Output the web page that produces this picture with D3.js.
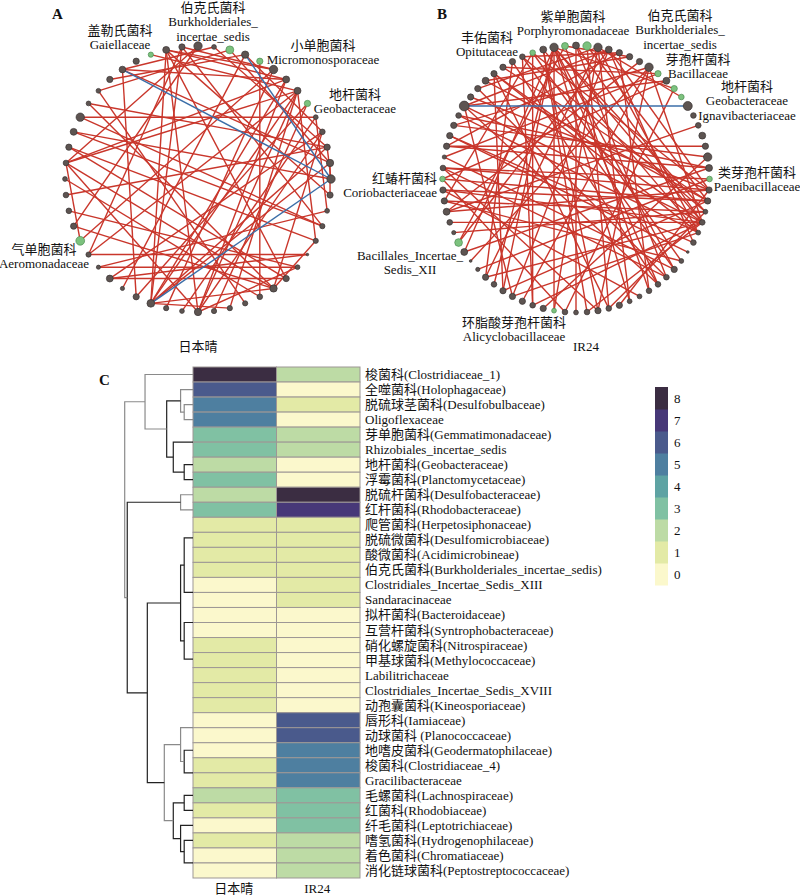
<!DOCTYPE html>
<html>
<head>
<meta charset="utf-8">
<script src="https://cdn.jsdelivr.net/npm/d3@7/dist/d3.min.js"></script>
<style>
  body { margin: 0; background: #fff; }
  text { font-family: "Liberation Serif", "Noto Sans CJK SC", serif; fill: #111; }
</style>
</head>
<body>
<div id="chart"></div>
<script>
// ---------- panel C: heatmap data ----------
const families = [
  "梭菌科(Clostridiaceae_1)", "全噬菌科(Holophagaceae)", "脱硫球茎菌科(Desulfobulbaceae)", "Oligoflexaceae",
  "芽单胞菌科(Gemmatimonadaceae)", "Rhizobiales_incertae_sedis", "地杆菌科(Geobacteraceae)", "浮霉菌科(Planctomycetaceae)",
  "脱硫杆菌科(Desulfobacteraceae)", "红杆菌科(Rhodobacteraceae)", "爬管菌科(Herpetosiphonaceae)", "脱硫微菌科(Desulfomicrobiaceae)",
  "酸微菌科(Acidimicrobineae)", "伯克氏菌科(Burkholderiales_incertae_sedis)", "Clostridiales_Incertae_Sedis_XIII", "Sandaracinaceae",
  "拟杆菌科(Bacteroidaceae)", "互营杆菌科(Syntrophobacteraceae)", "硝化螺旋菌科(Nitrospiraceae)", "甲基球菌科(Methylococcaceae)",
  "Labilitrichaceae", "Clostridiales_Incertae_Sedis_XVIII", "动孢囊菌科(Kineosporiaceae)", "唇形科(Iamiaceae)",
  "动球菌科 (Planococcaceae)", "地嗜皮菌科(Geodermatophilaceae)", "梭菌科(Clostridiaceae_4)", "Gracilibacteraceae",
  "毛螺菌科(Lachnospiraceae)", "红菌科(Rhodobiaceae)", "纤毛菌科(Leptotrichiaceae)", "嗜氢菌科(Hydrogenophilaceae)",
  "着色菌科(Chromatiaceae)", "消化链球菌科(Peptostreptococcaceae)"
];
const samples = ["日本晴", "IR24"];
const nipponbare = [8,6,5,5,3,3,2,3,2,3,1,1,1,1,0,0,0,0,1,1,1,1,1,0,0,0,1,1,2,1,0,1,0,0];
const ir24       = [2,0,1,0,2,2,0,0,8,7,1,1,1,1,1,1,0,0,0,0,0,0,0,6,6,5,5,5,3,3,3,2,2,2];
const legendTicks = [0,1,2,3,4,5,6,7,8];

// row dendrogram: [height, left, right], leaves are row indices
const dendrogram = [7.76,
  [5.45, 0, [2.99, [1.41, 1, [1, 2, 3]], [2.24, [0, 4, 5], [1, 6, 7]]]],
  [7.47, [1.41, 8, 9],
    [5.19,
      [1.41, [1, [0, 10, [0, 11, [0, 12, 13]]], [0, 14, 15]],
             [1, [0, 16, 17], [0, 18, [0, 19, [0, 20, [0, 21, 22]]]]]],
      [3.26, [1.41, [0, 23, 24], [1, 25, [0, 26, 27]]],
             [2.24, [1, 28, 29], [1.41, 30, [1, 31, [0, 32, 33]]]]]]]];

// ---------- panels A / B: co-occurrence networks ----------
// node weights, clockwise from the top of each circle
const nodeWeightA = [4,2.3,3.8,3.5,3,4,3.3,3.3,3,2.3,2.7,3,3.5,4,3,2.3,2.5,2.5,1.2,2.3,3,3.5,2.7,2.5,2.5,2.5,
  3.5,2.3,2.5,3.7,3,2,3.3,2,2.5,4.2,3,2.7,2.7,2.3,2.7,3,3.3,4,2.3,2.3,3,3.2,3,2.5,3.3,3];
const greenA = [2, 4, 8, 35, 49];
const edgesA = [
  [43,9],[50,29],[50,26],[50,20],[50,14],[50,5],[51,29],[51,16],[51,34],[0,40],[0,36],
  [1,47],[2,45],[47,6],[47,30],[47,12],[46,3],[44,11],[43,16],[42,13],[41,17],
  [40,7],[40,6],[40,26],[40,21],[39,22],[38,11],[35,5],[35,40],[34,7],
  [34,18],[33,19],[33,15],[32,20],[32,10],[31,3],[30,8],[29,7],[29,6],[29,12],[29,11],[29,21],[29,24],
  [28,5],[27,9],[26,7],[26,6],[26,10],[26,19],[25,8],[24,7],[23,45],[22,4],
  [21,44],[21,36],[21,10],[21,17],[20,41],[19,37],[18,32],[17,7],[16,42],[15,9],
  [14,12],[13,11],[12,2],[11,1],[10,3],[7,49],[6,50],[5,51]
];
const negEdgesA = [[47,13],[3,13],[29,13]];
const labelsA = [
  { node: 49, lines: ["盖勒氏菌科", "Gaiellaceae"] },
  { node: 2, lines: ["伯克氏菌科", "Burkholderiales_", "incertae_sedis"] },
  { node: 4, lines: ["小单胞菌科", "Micromonosporaceae"] },
  { node: 8, lines: ["地杆菌科", "Geobacteraceae"] },
  { node: 35, lines: ["气单胞菌科", "Aeromonadaceae"] }
];

const nodeWeightB = [3.3,4,4,3.3,3,3,3,4,3,3.3,3,2.7,4.3,2.7,2.7,3.3,3,4,3.3,2.7,3,3,2.3,2.7,2.3,2.7,1.3,2.3,
  3,2.7,2.7,2.7,2.3,2.3,3,2.7,3,2.7,2.3,2.7,2.3,3,2.7,3,3,3,2.7,3,2,1.3,3.3,3.7,2,2.7,3.3,3,3,2.7,2.7,2,3,3,3,
  2.7,4.7,3,3,3.3,3,3,3,2.7,2.7,3.3,4,3.3];
const greenB = [1, 8, 10, 11, 19, 40, 51, 57, 72, 75];
const edgesB = [
  [53,23],[56,21],[55,22],[58,20],[60,18],[62,17],
  [74,23],[74,28],[74,33],[74,45],[74,50],[74,40],[74,30],
  [73,24],[73,36],[72,27],[72,55],[71,22],[71,42],[70,30],[70,47],
  [69,8],[69,21],[68,23],[68,35],[67,5],[66,2],[66,29],[65,20],
  [64,23],[64,30],[64,44],[64,3],[63,24],[62,7],[61,26],[60,4],[59,28],
  [58,36],[57,21],[57,9],[56,23],[56,32],[54,20],[54,6],[52,22],[51,75],[51,3],[50,18],
  [49,7],[48,19],[47,23],[47,2],[46,74],[45,21],[45,68],[44,3],[44,24],
  [43,7],[42,23],[42,72],[41,17],[40,2],[39,10],[39,57],
  [38,0],[37,23],[37,73],[36,7],[35,22],[35,1],[34,20],
  [33,2],[31,4],[31,75],[29,58],[29,0],[28,71],
  [27,55],[25,61],[25,3],[24,68],[24,2],[23,7],[23,0],[22,74],
  [21,1],[21,67],[20,72],[20,3],[19,58],[18,63],[16,60],[14,54],
  [11,2],[10,74],[9,64],[8,59],[5,75],[4,71]
];
const negEdgesB = [[64,12]];
const labelsB = [
  { node: 72, lines: ["丰佑菌科", "Opitutaceae"] },
  { node: 1, lines: ["紫单胞菌科", "Porphyromonadaceae"] },
  { node: 8, lines: ["伯克氏菌科", "Burkholderiales_", "incertae_sedis"] },
  { node: 10, lines: ["芽孢杆菌科", "Bacillaceae"] },
  { node: 11, lines: ["地杆菌科", "Geobacteraceae", "Ignavibacteriaceae"] },
  { node: 19, lines: ["类芽孢杆菌科", "Paenibacillaceae"] },
  { node: 57, lines: ["红蝽杆菌科", "Coriobacteriaceae"] },
  { node: 51, lines: ["Bacillales_Incertae_", "Sedis_XII"] },
  { node: 40, lines: ["环脂酸芽孢杆菌科", "Alicyclobacillaceae"] }
];

// ---------- drawing ----------
const width = 800, height = 896;
const svg = d3.select("#chart").append("svg")
  .attr("width", width).attr("height", height);

const red = "#c9362b", blue = "#3b6ea8";
const greyFill = "#5d5451", greenFill = "#7cc27e";
const radius = d3.scaleLinear().domain([0, 4.7]).range([0, 4.9]);

function drawNetwork(opt) {
  const g = svg.append("g");
  const n = opt.weights.length;
  const angle = d3.scaleLinear().domain([0, n]).range([0, 2 * Math.PI]);
  const pos = d3.range(n).map(i => [
    opt.cx + opt.r * Math.sin(angle(i)),
    opt.cy - opt.r * Math.cos(angle(i))
  ]);

  g.selectAll("line.pos").data(opt.edges).enter().append("line")
    .attr("class", "pos")
    .attr("x1", d => pos[d[0]][0]).attr("y1", d => pos[d[0]][1])
    .attr("x2", d => pos[d[1]][0]).attr("y2", d => pos[d[1]][1])
    .attr("stroke", red).attr("stroke-width", 1.4);

  g.selectAll("line.neg").data(opt.negEdges).enter().append("line")
    .attr("class", "neg")
    .attr("x1", d => pos[d[0]][0]).attr("y1", d => pos[d[0]][1])
    .attr("x2", d => pos[d[1]][0]).attr("y2", d => pos[d[1]][1])
    .attr("stroke", blue).attr("stroke-width", 1.4);

  g.selectAll("circle").data(opt.weights).enter().append("circle")
    .attr("cx", (d, i) => pos[i][0]).attr("cy", (d, i) => pos[i][1])
    .attr("r", d => radius(d))
    .attr("fill", (d, i) => opt.green.includes(i) ? greenFill : greyFill)
    .attr("stroke", (d, i) => opt.green.includes(i) ? "#4d8c52" : "#3a3333")
    .attr("stroke-width", 0.7);

  opt.labels.forEach((lab, k) => {
    const p = opt.labelPos[k];
    const t = g.append("text").attr("font-size", 13).attr("text-anchor", p[2] || "middle");
    lab.lines.forEach((s, j) => {
      t.append("tspan").attr("x", p[0]).attr("y", p[1] + j * 14.3).text(s);
    });
  });

  g.append("text").attr("x", opt.titleX).attr("y", 351).attr("font-size", 13)
    .attr("text-anchor", "middle").text(opt.title);
  g.append("text").attr("x", opt.letter[0]).attr("y", opt.letter[1])
    .attr("font-size", 15).attr("font-weight", "bold").text(opt.letterText);
}

drawNetwork({
  cx: 198, cy: 179, r: 133, weights: nodeWeightA, green: greenA,
  edges: edgesA, negEdges: negEdgesA, labels: labelsA,
  labelPos: [[120, 35], [213, 12], [323, 50], [355, 99], [44, 254]],
  title: "日本晴", titleX: 198, letter: [52, 19], letterText: "A"
});

drawNetwork({
  cx: 576, cy: 179, r: 133.5, weights: nodeWeightB, green: greenB,
  edges: edgesB, negEdges: negEdgesB, labels: labelsB,
  labelPos: [[487, 42], [573, 21], [680, 20], [698, 64], [747, 91], [757, 177],
             [437, 183, "end"], [410, 260], [514, 327]],
  title: "IR24", titleX: 586, letter: [437, 19], letterText: "B"
});

// ---------- panel C ----------
const colors = ["#fbf8cc", "#e3eaa6", "#bddba5", "#80c1a3", "#5ea3a3", "#4e7fa0", "#4a5a8c", "#473878", "#3b2d42"];
const colorOf = d3.scaleOrdinal().domain(legendTicks).range(colors);

const hx = d3.scaleBand().domain(samples).range([193, 360]);
const hy = d3.scaleBand().domain(families).range([367, 878]);
const gc = svg.append("g");

const cells = [];
families.forEach((f, i) => {
  cells.push({ fam: f, s: samples[0], v: nipponbare[i] });
  cells.push({ fam: f, s: samples[1], v: ir24[i] });
});

gc.selectAll("rect.cell").data(cells).enter().append("rect")
  .attr("class", "cell")
  .attr("x", d => hx(d.s)).attr("y", d => hy(d.fam))
  .attr("width", hx.bandwidth()).attr("height", hy.bandwidth())
  .attr("fill", d => colorOf(d.v))
  .attr("stroke", "#9d9795").attr("stroke-width", 1);

gc.selectAll("text.row").data(families).enter().append("text")
  .attr("class", "row")
  .attr("x", 365).attr("y", d => hy(d) + hy.bandwidth() / 2 + 4.5)
  .attr("font-size", 13).text(d => d);

gc.selectAll("text.col").data(samples).enter().append("text")
  .attr("class", "col")
  .attr("x", d => hx(d) + hx.bandwidth() / 2 - 1).attr("y", 893)
  .attr("text-anchor", "middle").attr("font-size", 13).text(d => d);

gc.append("text").attr("x", 99).attr("y", 385).attr("font-size", 15)
  .attr("font-weight", "bold").text("C");

// dendrogram
const hh = d3.scaleLinear().domain([0, 7.76]).range([193, 124.7]);
const greyLinks = new Set(["0-33", "0-7", "1-3", "2-3", "8-9", "23-33", "23-27"]);
function drawTree(node) {
  if (typeof node === "number") {
    return { x: hh(0), y: hy(families[node]) + hy.bandwidth() / 2, lo: node, hi: node };
  }
  const a = drawTree(node[1]);
  const b = drawTree(node[2]);
  const x = hh(node[0]);
  const lo = a.lo, hi = b.hi;
  if (node[0] > 0) {
    gc.append("path")
      .attr("d", `M${a.x},${a.y}H${x}V${b.y}H${b.x}`)
      .attr("fill", "none")
      .attr("stroke", greyLinks.has(lo + "-" + hi) ? "#8a8a8a" : "#222")
      .attr("stroke-width", 1.2);
  }
  return { x: x, y: (a.y + b.y) / 2, lo: lo, hi: hi };
}
drawTree(dendrogram);

// legend
const ly = d3.scaleBand().domain(legendTicks.slice().reverse()).range([387, 585]);
const lg = svg.append("g");
lg.selectAll("rect").data(legendTicks).enter().append("rect")
  .attr("x", 655).attr("y", d => ly(d)).attr("width", 13).attr("height", ly.bandwidth() + 0.5)
  .attr("fill", d => colorOf(d));
lg.selectAll("text").data(legendTicks).enter().append("text")
  .attr("x", 674).attr("y", d => ly(d) + ly.bandwidth() / 2 + 4.5)
  .attr("font-size", 13).text(d => d);
</script>
</body>
</html>
